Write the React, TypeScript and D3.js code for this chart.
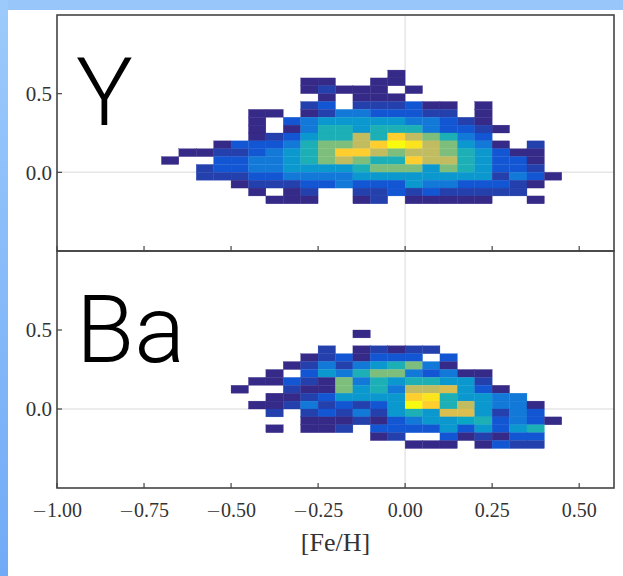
import React from "react";
import * as d3 from "d3";

const WIDTH = 623;
const HEIGHT = 576;

// Axis ranges shared by both panels
const FEH_DOMAIN: [number, number] = [-1.0, 0.6];
const ABUND_DOMAIN: [number, number] = [-0.5, 1.0];

// Histogram binning: 0.05 dex in both directions
const BIN = 0.05;
const FEH_FIRST_EDGE = -0.7; // left edge of the first column in every row

const X_TICKS = [-1.0, -0.75, -0.5, -0.25, 0.0, 0.25, 0.5];
const X_TICK_LABELS = ["−1.00", "−0.75", "−0.50", "−0.25", "0.00", "0.25", "0.50"];
const Y_TICKS = [0.0, 0.5];
const Y_TICK_LABELS = ["0.0", "0.5"];

// Star counts per bin for [Y/Fe]; first row has lower edge 0.60, rows step down by 0.05
const Y_TOP_EDGE = 0.6;
const Y_COUNTS: number[][] = [
  [0, 0, 0, 0, 0, 0, 0, 0, 0, 0, 0, 0, 0, 1, 0, 0, 0, 0, 0, 0, 0, 0, 0],
  [0, 0, 0, 0, 0, 0, 0, 0, 1, 1, 0, 0, 1, 1, 0, 0, 0, 0, 0, 0, 0, 0, 0],
  [0, 0, 0, 0, 0, 0, 0, 0, 1, 2, 1, 1, 1, 0, 1, 0, 0, 0, 0, 0, 0, 0, 0],
  [0, 0, 0, 0, 0, 0, 0, 0, 0, 1, 0, 1, 1, 1, 0, 0, 0, 0, 0, 0, 0, 0, 0],
  [0, 0, 0, 0, 0, 0, 0, 0, 2, 3, 0, 2, 2, 2, 3, 1, 1, 0, 1, 0, 0, 0, 0],
  [0, 0, 0, 0, 0, 1, 1, 0, 1, 2, 5, 5, 3, 3, 3, 2, 2, 0, 1, 0, 0, 0, 0],
  [0, 0, 0, 0, 0, 1, 0, 3, 5, 7, 7, 7, 7, 7, 5, 5, 3, 2, 1, 0, 0, 0, 0],
  [0, 0, 0, 0, 0, 1, 0, 1, 5, 9, 9, 7, 9, 9, 9, 5, 3, 3, 2, 1, 0, 0, 0],
  [0, 0, 0, 0, 0, 1, 2, 3, 7, 9, 9, 14, 9, 17, 14, 12, 9, 5, 3, 0, 0, 0, 0],
  [0, 0, 0, 1, 3, 3, 3, 5, 9, 12, 12, 14, 17, 19, 18, 14, 12, 7, 5, 1, 0, 2, 0],
  [0, 1, 1, 2, 2, 3, 5, 7, 9, 12, 17, 17, 14, 12, 14, 14, 12, 9, 7, 3, 1, 1, 0],
  [1, 0, 0, 3, 3, 5, 5, 7, 9, 12, 14, 12, 9, 9, 17, 14, 14, 9, 7, 3, 3, 1, 0],
  [0, 0, 2, 3, 3, 5, 5, 7, 7, 7, 7, 9, 12, 12, 12, 7, 12, 9, 7, 3, 3, 2, 0],
  [0, 0, 2, 2, 2, 3, 3, 5, 5, 5, 5, 7, 7, 7, 7, 7, 7, 7, 7, 2, 5, 3, 1],
  [0, 0, 0, 0, 1, 2, 2, 2, 3, 3, 5, 3, 3, 3, 7, 5, 5, 3, 3, 3, 2, 1, 0],
  [0, 0, 0, 0, 0, 1, 0, 1, 2, 0, 0, 2, 2, 3, 2, 3, 2, 2, 2, 2, 2, 0, 0],
  [0, 0, 0, 0, 0, 0, 1, 1, 1, 0, 0, 1, 2, 0, 1, 1, 1, 1, 1, 0, 0, 1, 0],
];

// Star counts per bin for [Ba/Fe]; first row has lower edge 0.45
const BA_TOP_EDGE = 0.45;
const BA_COUNTS: number[][] = [
  [0, 0, 0, 0, 0, 0, 0, 0, 0, 0, 0, 1, 0, 0, 0, 0, 0, 0, 0, 0, 0, 0, 0],
  [0, 0, 0, 0, 0, 0, 0, 0, 0, 0, 0, 0, 0, 0, 0, 0, 0, 0, 0, 0, 0, 0, 0],
  [0, 0, 0, 0, 0, 0, 0, 0, 0, 2, 0, 1, 2, 1, 2, 2, 0, 0, 0, 0, 0, 0, 0],
  [0, 0, 0, 0, 0, 0, 0, 0, 1, 2, 3, 1, 3, 3, 3, 0, 3, 0, 0, 0, 0, 0, 0],
  [0, 0, 0, 0, 0, 0, 0, 1, 2, 5, 2, 5, 7, 9, 12, 5, 1, 0, 0, 0, 0, 0, 0],
  [0, 0, 0, 0, 0, 0, 1, 0, 3, 7, 5, 9, 12, 12, 5, 3, 5, 1, 1, 0, 0, 0, 0],
  [0, 0, 0, 0, 0, 1, 1, 3, 2, 1, 12, 5, 9, 7, 9, 9, 7, 7, 2, 0, 0, 0, 0],
  [0, 0, 0, 0, 1, 0, 0, 2, 1, 1, 12, 7, 9, 5, 14, 14, 15, 7, 3, 1, 0, 0, 0],
  [0, 0, 0, 0, 0, 0, 1, 1, 2, 3, 7, 7, 7, 7, 17, 18, 9, 7, 7, 5, 5, 0, 0],
  [0, 0, 0, 0, 0, 1, 1, 2, 5, 2, 3, 2, 3, 7, 19, 17, 9, 14, 7, 5, 5, 1, 0],
  [0, 0, 0, 0, 0, 0, 2, 0, 2, 3, 2, 5, 2, 7, 9, 7, 15, 15, 7, 2, 5, 3, 0],
  [0, 0, 0, 0, 0, 0, 0, 0, 1, 1, 1, 2, 1, 3, 5, 7, 7, 8, 9, 3, 5, 3, 1],
  [0, 0, 0, 0, 0, 0, 1, 0, 1, 1, 2, 0, 3, 3, 3, 3, 7, 3, 7, 3, 7, 9, 0],
  [0, 0, 0, 0, 0, 0, 0, 0, 0, 0, 0, 0, 1, 2, 0, 0, 3, 1, 2, 1, 3, 3, 0],
  [0, 0, 0, 0, 0, 0, 0, 0, 0, 0, 0, 0, 0, 0, 1, 1, 1, 0, 1, 3, 2, 2, 0],
];

// Parula colormap stops
const PARULA = ["#352a87", "#0f5cdd", "#1481d6", "#06a4ca", "#2eb7a4", "#87bf77", "#d1bb59", "#fec832", "#f9fb0e"];
const COUNT_RANGE: [number, number] = [1, 19];

const LEFT = 57;
const RIGHT = 614;
const PANELS = [
  { name: "Y", counts: Y_COUNTS, topEdge: Y_TOP_EDGE, top: 15, bottom: 251, labelBaseline: 125 },
  { name: "Ba", counts: BA_COUNTS, topEdge: BA_TOP_EDGE, top: 251, bottom: 488, labelBaseline: 362 },
];

const SERIF = "'Liberation Serif', 'DejaVu Serif', serif";
const SANS = "Roboto, 'Liberation Sans', Arial, sans-serif";
const AXIS_COLOR = "#444";
const TEXT_COLOR = "#333";

// Tick text with a wide, math-style minus sign
function TickText({ label }: { label: string }) {
  if (label.startsWith("−")) {
    return (
      <>
        <tspan fontFamily="'DejaVu Sans', sans-serif" fontWeight={300} fontSize={18}>
          −
        </tspan>
        <tspan>{label.slice(1)}</tspan>
      </>
    );
  }
  return <>{label}</>;
}

export default function App() {
  const x = d3.scaleLinear().domain(FEH_DOMAIN).range([LEFT, RIGHT]);
  const parula = d3
    .scaleLinear<string>()
    .domain(PARULA.map((_, i) => i / (PARULA.length - 1)))
    .range(PARULA)
    .interpolate(d3.interpolateRgb);
  const norm = d3.scaleLinear().domain(COUNT_RANGE).range([0, 1]).clamp(true);
  const color = (c: number) => parula(norm(c));

  return (
    <div style={{ position: "absolute", left: 0, top: 0 }}>
      <svg width={WIDTH} height={HEIGHT} style={{ display: "block" }}>
        <defs>
          <linearGradient id="edgeFade" x1="0" y1="0" x2="0" y2="1">
            <stop offset="0" stopColor="#9ccafb" />
            <stop offset="1" stopColor="#71aaf6" />
          </linearGradient>
        </defs>
        <rect x={0} y={0} width={WIDTH} height={HEIGHT} fill="#fff" />
        <rect x={0} y={0} width={WIDTH} height={10} fill="#99c6fa" />
        <rect x={0} y={0} width={8} height={HEIGHT} fill="url(#edgeFade)" />

        {PANELS.map((p) => {
          const y = d3.scaleLinear().domain(ABUND_DOMAIN).range([p.bottom, p.top]);
          const cells: { x0: number; x1: number; y0: number; y1: number; c: number }[] = [];
          p.counts.forEach((row, r) => {
            const lo = p.topEdge - r * BIN;
            row.forEach((c, i) => {
              if (c <= 0) return;
              const left = FEH_FIRST_EDGE + i * BIN;
              cells.push({ x0: x(left), x1: x(left + BIN), y0: y(lo + BIN), y1: y(lo), c });
            });
          });
          return (
            <g key={p.name}>
              {/* zero reference lines */}
              <line x1={LEFT} x2={RIGHT} y1={y(0)} y2={y(0)} stroke="#e6e6e6" strokeWidth={1.5} />
              <line x1={x(0)} x2={x(0)} y1={p.top} y2={p.bottom} stroke="#e6e6e6" strokeWidth={1.5} />
              {cells.map((d, k) => (
                <rect
                  key={k}
                  x={d.x0}
                  y={d.y0}
                  width={d.x1 - d.x0}
                  height={d.y1 - d.y0}
                  fill={color(d.c)}
                  stroke={color(d.c)}
                  strokeWidth={0.3}
                />
              ))}
              <rect x={LEFT} y={p.top} width={RIGHT - LEFT} height={p.bottom - p.top} fill="none" stroke={AXIS_COLOR} strokeWidth={1.6} />
              {Y_TICKS.map((t, i) => (
                <g key={"y" + i}>
                  <line x1={LEFT} x2={LEFT + 5} y1={y(t)} y2={y(t)} stroke={AXIS_COLOR} strokeWidth={1.2} />
                  <text x={LEFT - 5} y={y(t)} dy="0.35em" textAnchor="end" fontFamily={SERIF} fontSize={21} fill={TEXT_COLOR}>
                    {Y_TICK_LABELS[i]}
                  </text>
                </g>
              ))}
              {X_TICKS.map((t, i) => (
                <line key={"x" + i} x1={x(t)} x2={x(t)} y1={p.bottom} y2={p.bottom - 5} stroke={AXIS_COLOR} strokeWidth={1.2} />
              ))}
              <text x={76} y={p.labelBaseline} fontFamily={SANS} fontWeight={300} fontSize={95} fill="#000">
                {p.name}
              </text>
            </g>
          );
        })}

        {X_TICKS.map((t, i) => (
          <text key={i} x={x(t)} y={517} textAnchor="middle" fontFamily={SERIF} fontSize={20} fill={TEXT_COLOR}>
            <TickText label={X_TICK_LABELS[i]} />
          </text>
        ))}
        <text x={(LEFT + RIGHT) / 2} y={551} textAnchor="middle" fontFamily={SERIF} fontSize={26} fill={TEXT_COLOR}>
          [Fe/H]
        </text>
      </svg>
    </div>
  );
}
